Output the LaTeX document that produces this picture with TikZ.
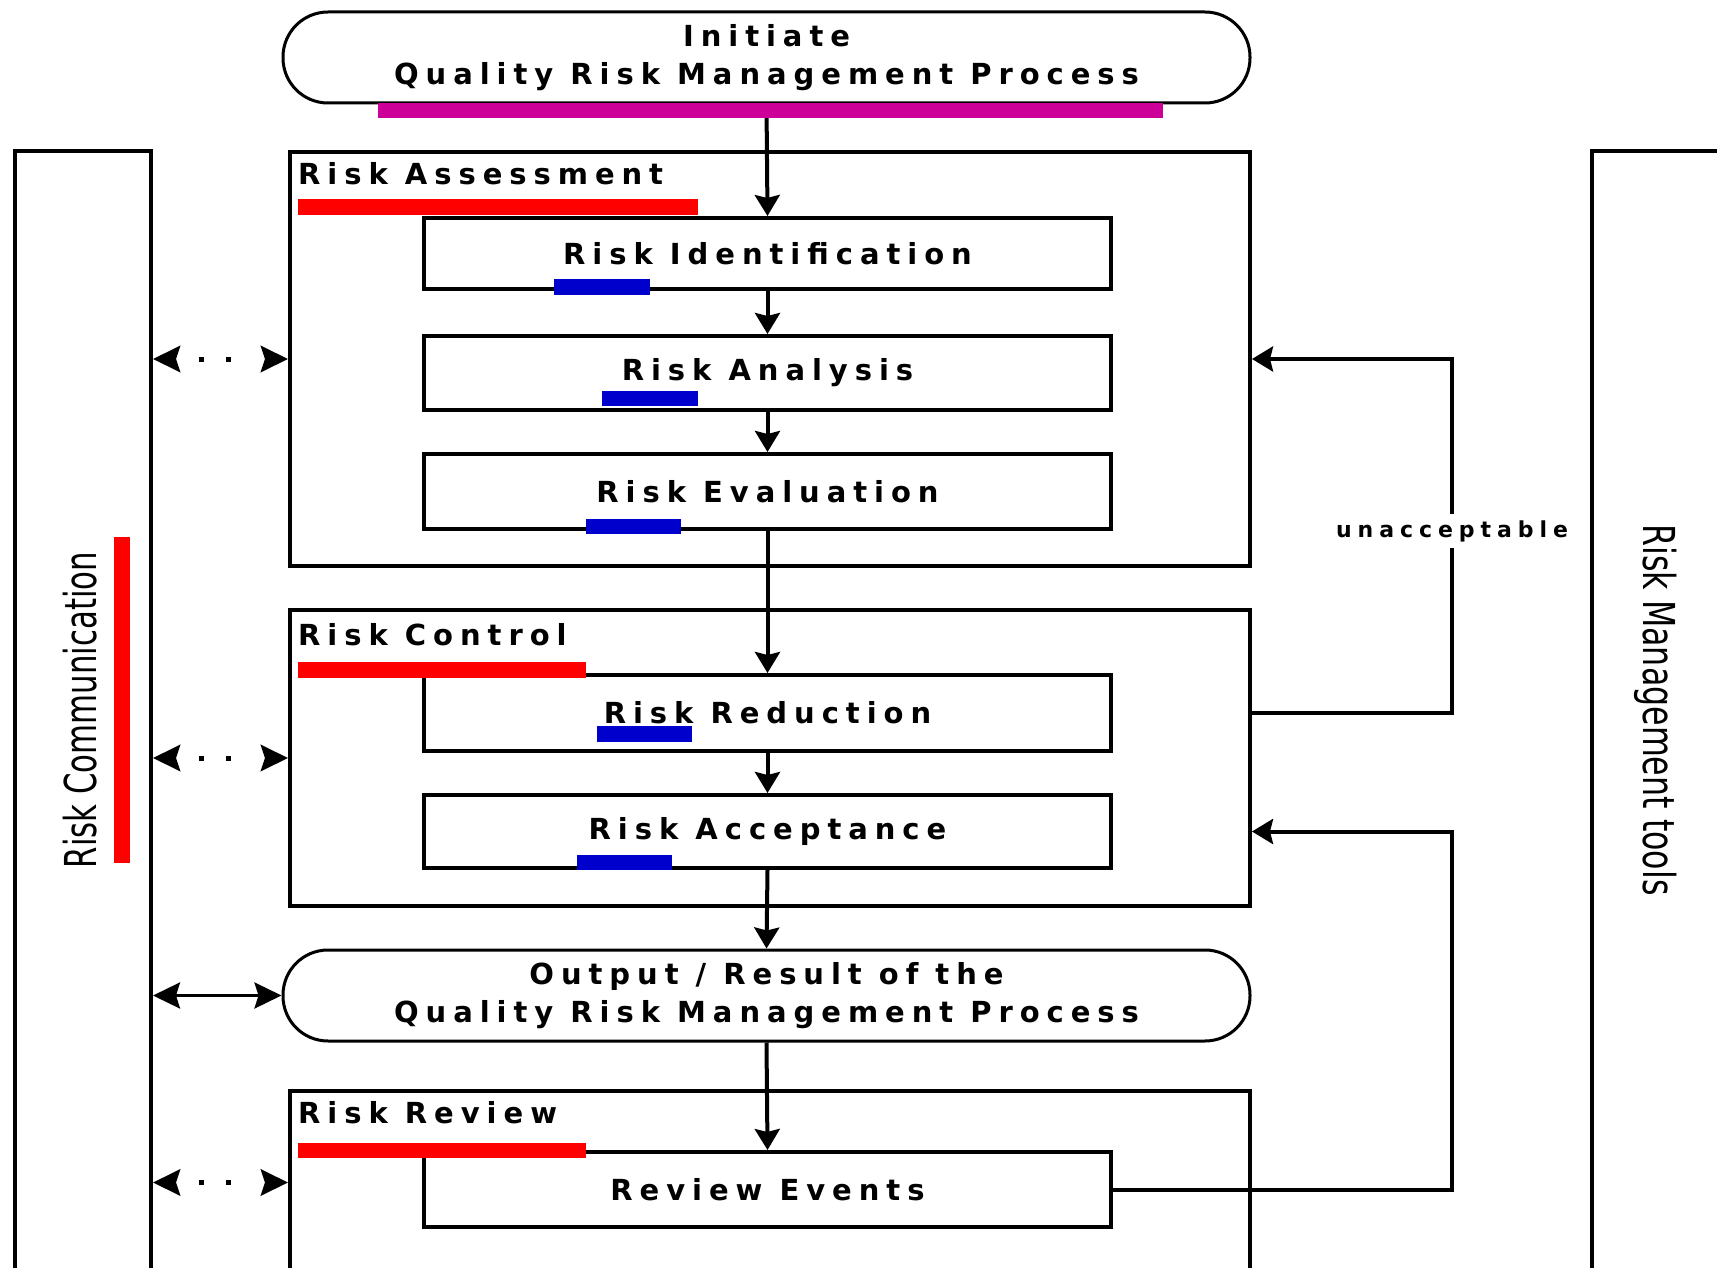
\documentclass[tikz,border=0pt]{standalone}
\usepackage{fontspec}
\setmainfont{DejaVu Sans}
\newfontfamily\pixfont{DejaVu Sans Bold}[LetterSpace=24]
\newfontfamily\smallpix{DejaVu Sans Bold}[LetterSpace=27]
\usetikzlibrary{arrows.meta}
\definecolor{barred}{RGB}{255,0,0}
\definecolor{barblue}{RGB}{0,0,204}
\definecolor{barmag}{RGB}{204,0,153}

\begin{document}
\begin{tikzpicture}[x=1pt,y=-1pt,
  box/.style={draw,line width=4pt,rectangle,anchor=north west,inner sep=0pt,
    font=\pixfont\fontsize{29}{38}\selectfont},
  term/.style={draw,line width=3pt,rectangle,rounded corners=45pt,inner sep=0pt,
    align=center,font=\pixfont\fontsize{29}{38}\selectfont},
  title/.style={anchor=base west,inner sep=0pt,font=\pixfont\fontsize{29}{38}\selectfont},
  sidetext/.style={inner sep=0pt,font=\fontsize{44}{50}\selectfont},
  flow/.style={line width=4pt,-{Stealth[length=21pt,width=25pt,inset=3pt]}},
  sidesolid/.style={line width=3pt,{Stealth[length=27pt,width=26pt,inset=4pt]}-{Stealth[length=27pt,width=26pt,inset=4pt]}},
  sidedot/.style={sidesolid,line width=5pt,dash pattern=on 0pt off 24pt on 5pt off 22pt on 5pt off 60pt}
]
\clip (0,0) rectangle (1717,1268);
\fill[white] (0,0) rectangle (1717,1268);

% side columns
\node[box,minimum width=136pt,minimum height=1200pt] (lcol) at (13,149) {};
\node[box,minimum width=300pt,minimum height=1200pt] (rcol) at (1590,149) {};
\fill[barred] (114,537) rectangle (130,863);
\node[sidetext,rotate=90] (rcomm) at (80,710) {\scalebox{0.7}[1]{Risk Communication}};
\node[sidetext,rotate=-90] (rtools) at (1656,710) {\scalebox{0.72}[1]{Risk Management tools}};

% start terminator
\node[term,minimum width=967pt,minimum height=91pt] (init) at (766.5,57.5)
  {Initiate\\Quality Risk Management Process};

% risk assessment group
\node[box,minimum width=960pt,minimum height=414pt] (ra) at (288,150) {};
\node[title] (ratitle) at (298,185) {Risk Assessment};
\node[box,minimum width=687pt,minimum height=71pt] (ri) at (422,216) {Risk Identification};
\node[box,minimum width=687pt,minimum height=74pt] (ran) at (422,334) {Risk Analysis};
\node[box,minimum width=687pt,minimum height=75pt] (rev) at (422,452) {Risk Evaluation};

% risk control group
\node[box,minimum width=960pt,minimum height=296pt] (rc) at (288,608) {};
\node[title] (rctitle) at (298,645) {Risk Control};
\node[box,minimum width=687pt,minimum height=76pt] (rr) at (422,673) {Risk Reduction};
\node[box,minimum width=687pt,minimum height=73pt] (racc) at (422,793) {Risk Acceptance};

% output terminator
\node[term,minimum width=967pt,minimum height=91pt] (out) at (766.5,995.5)
  {Output / Result of the\\Quality Risk Management Process};

% risk review group
\node[box,minimum width=960pt,minimum height=183pt] (rrv) at (288,1089) {};
\node[title] (rrvtitle) at (298,1123) {Risk Review};
\node[box,minimum width=687pt,minimum height=75pt] (reve) at (422,1150) {Review Events};

% main flow
\draw[flow] (init.south) -- (ri.north);
\draw[flow] (ri.south) -- (ran.north);
\draw[flow] (ran.south) -- (rev.north);
\draw[flow] (rev.south) -- (rr.north);
\draw[flow] (rr.south) -- (racc.north);
\draw[flow] (racc.south) -- (out.north);
\draw[flow] (out.south) -- (reve.north);

% feedback loops
\coordinate (loopx) at (1452,531);
\draw[flow] (rc.east |- rr.center) -| (loopx) |- (ra.east);
\draw[flow] (reve.east) -| (loopx |- racc.center) -- (rc.east |- racc.center);
\node[fill=white,inner xsep=2pt,inner ysep=6pt,font=\smallpix\fontsize{22}{26}\selectfont] (unacc) at (loopx) {unacceptable};

% communication arrows
\draw[sidedot] (lcol.east |- ra.west) -- (ra.west);
\draw[sidedot] (lcol.east |- rc.west) -- (rc.west);
\draw[sidesolid] (lcol.east |- out.west) -- (out.west);
\draw[sidedot] (lcol.east |- rrv.west) -- (rrv.west);

% highlight bars
\fill[barmag] (378,103) rectangle (1163,118);
\fill[barred] (298,199) rectangle (698,215);
\fill[barred] (298,662) rectangle (586,678);
\fill[barred] (298,1143) rectangle (586,1158);
\fill[barblue] (554,279) rectangle (650,295);
\fill[barblue] (602,391) rectangle (698,406);
\fill[barblue] (586,519) rectangle (681,534);
\fill[barblue] (597,726) rectangle (692,742);
\fill[barblue] (577,855) rectangle (672,870);
\end{tikzpicture}
\end{document}
